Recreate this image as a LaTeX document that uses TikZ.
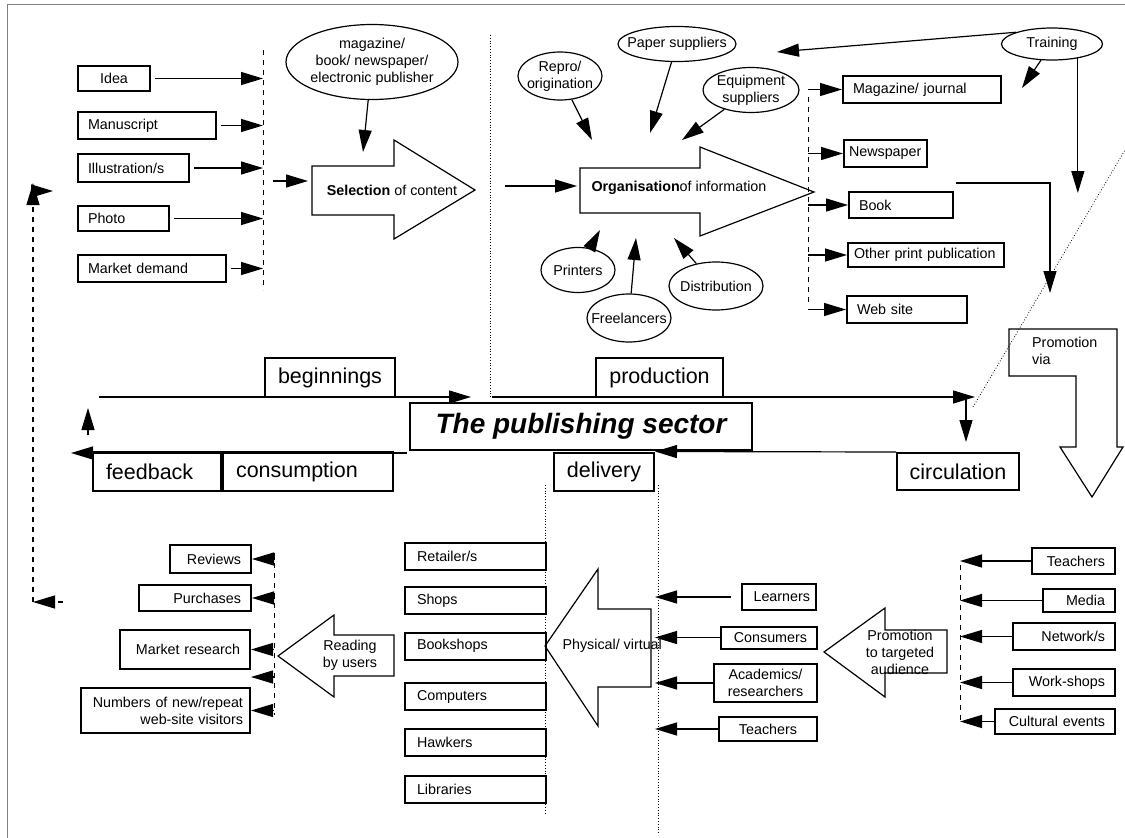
\documentclass[tikz,border=0pt]{standalone}
\usepackage{fontspec}
\setmainfont{Liberation Sans}
\usetikzlibrary{arrows.meta,shapes.geometric}
\newcommand\txtS{\fontsize{14.3}{17}\selectfont}
\newcommand\txtL{\fontsize{21.5}{24}\selectfont}
\newcommand\txtXL{\fontsize{28}{32}\selectfont\bfseries\itshape}

\begin{document}
\begin{tikzpicture}[x=1pt,y=-1pt]
	\tikzstyle{es} = [-{Triangle[length=22pt,width=13pt]}, line width=1.2pt]
	\tikzstyle{sbox} = [draw, line width=2pt, font=\txtS, inner xsep=10pt, inner ysep=0pt, align=left]
	\tikzstyle{lbox} = [draw, line width=2pt, font=\txtL, inner xsep=8pt, inner ysep=0pt]
	\tikzstyle{oval} = [draw, ellipse, line width=1.2pt, font=\txtS, inner xsep=-14pt, inner ysep=-6pt, align=center]
	\tikzstyle{blk} = [draw, line width=1.2pt]
	\tikzstyle{bus} = [dash pattern=on 5pt off 5pt, line width=0.8pt]
	\tikzstyle{dotl} = [dotted, line width=0.8pt]
	\useasboundingbox (0,0) rectangle (1125,838);
	\draw[gray, line width=0.8pt] (7,838) -- (7,4) -- (1125,4);
	% beginnings: sources
	\node[sbox, anchor=west, text width=52pt, align=center, minimum height=25pt] (idea) at (77,78.5) {Idea};
	\node[sbox, anchor=west, text width=118pt, minimum height=27pt] (manu) at (77,125.5) {Manuscript};
	\node[sbox, anchor=west, text width=91pt, minimum height=28pt] (illus) at (77,168) {Illustration/s};
	\node[sbox, anchor=west, text width=71pt, minimum height=25pt] (photo) at (77,218.5) {Photo};
	\node[sbox, anchor=west, text width=128pt, minimum height=27pt] (demand) at (77,268.5) {Market demand};
	\coordinate (inT) at (263,50);
	\coordinate (inB) at (263,290);
	\draw[bus] (inT) -- (inB);
	\draw[es, shorten <=4pt] (idea.east) -- (idea.east -| inT);
	\draw[es, shorten <=4pt] (manu.east) -- (manu.east -| inT);
	\draw[es, shorten <=4pt] (illus.east) -- (illus.east -| inT);
	\draw[es, shorten <=4pt] (photo.east) -- (photo.east -| inT);
	\draw[es, shorten <=4pt] (demand.east) -- (demand.east -| inT);
	% selection
	\draw[blk] (312,166) -- (394,166) -- (394,140) -- (475,190) -- (394,239) -- (394,215) -- (312,215) -- cycle;
	\node[font=\txtS] (sel) at (392,190) {\textbf{Selection} of content};
	\coordinate (selFrom) at (273,181);
	\coordinate (selIn) at (308,181);
	\draw[es] (selFrom) -- (selIn);
	\node[oval, minimum width=172pt, minimum height=75pt] (publisher) at (372,62) {magazine/\\book/ newspaper/\\electronic publisher};
	\coordinate (selTop) at (363,152);
	\draw[es] (publisher) -- (selTop);
	\draw[dotl] (490,35) -- (490,397);
	% organisation
	\draw[blk] (580,168) -- (700,168) -- (700,147) -- (814,192) -- (700,236) -- (700,213) -- (580,213) -- cycle;
	\node[font=\txtS, anchor=west] (org) at (588,188) {\textbf{Organisation}of information};
	\coordinate (orgFrom) at (505,186);
	\coordinate (orgIn) at (577,186);
	\draw[es] (orgFrom) -- (orgIn);
	\node[oval, minimum width=84pt, minimum height=48pt] (repro) at (560,76) {Repro/\\origination};
	\node[oval, minimum width=118pt, minimum height=35pt] (paper) at (677,44) {Paper suppliers};
	\node[oval, minimum width=96pt, minimum height=45pt] (equip) at (751,90) {Equipment\\suppliers};
	\node[oval, minimum width=74pt, minimum height=45pt] (printers) at (578,270) {Printers};
	\node[oval, minimum width=84pt, minimum height=48pt] (freel) at (629,318) {Freelancers};
	\node[oval, minimum width=94pt, minimum height=48pt] (distrib) at (716,286) {Distribution};
	\node[oval, minimum width=101pt, minimum height=32pt] (training) at (1052,44) {Training};
	\coordinate (orgRepro) at (592,140);
	\coordinate (orgPaper) at (650,133);
	\coordinate (orgEquip) at (682,140);
	\coordinate (orgPrint) at (600,230);
	\coordinate (orgFree) at (636,238);
	\coordinate (orgDist) at (674,238);
	\draw[es] (repro) -- (orgRepro);
	\draw[es] (paper) -- (orgPaper);
	\draw[es] (equip) -- (orgEquip);
	\draw[es] (printers) -- (orgPrint);
	\draw[es] (freel) -- (orgFree);
	\draw[es] (distrib) -- (orgDist);
	\coordinate (trainL) at (777,52);
	\coordinate (trainM) at (1022,88);
	\coordinate (trainD) at (1077,193);
	\draw[es] (training.north west) -- (trainL);
	\draw[es] (training) -- (trainM);
	\draw[es] (training.-29) -- (training.-29 |- trainD);
	% products
	\node[sbox, anchor=west, text width=138pt, minimum height=27pt] (mag) at (842,89.5) {Magazine/ journal};
	\node[sbox, anchor=west, inner xsep=5pt, text width=73pt, minimum height=27pt] (news) at (843,153.5) {Newspaper};
	\node[sbox, anchor=west, text width=84pt, minimum height=26pt] (book) at (848,205) {Book};
	\node[sbox, anchor=west, inner xsep=6pt, text width=144pt, minimum height=24pt] (other) at (847,255) {Other print publication};
	\node[sbox, anchor=west, text width=100pt, minimum height=27pt] (web) at (846,309.5) {Web site};
	\coordinate (outT) at (808,97);
	\coordinate (outB) at (808,303);
	\draw[bus] (outT) -- (outB);
	\draw[es] (outT |- mag.west) -- (mag.west);
	\draw[es] (outT |- news.west) -- (news.west);
	\draw[es] (outT |- book.west) -- (book.west);
	\draw[es] (outT |- other.west) -- (other.west);
	\draw[es] (outT |- web.west) -- (web.west);
	\coordinate (bookOut) at (956,183);
	\coordinate (promIn) at (1050,293);
	\draw[es] (bookOut) -| (promIn);
	\coordinate (diagA) at (973,407);
	\coordinate (diagB) at (1125,150);
	\draw[dotl] (diagA) -- (diagB);
	% promotion via
	\draw[blk] (1009,329) -- (1117,329) -- (1117,447) -- (1123,447) -- (1092,497) -- (1060,447) -- (1076,447) -- (1076,376) -- (1009,376) -- cycle;
	\node[font=\txtS, align=left, anchor=north west, inner sep=0pt] (promVia) at (1032,337) {Promotion\\via};
	% the cycle
	\node[lbox, minimum width=130pt, minimum height=39pt] (begin) at (330,377.5) {beginnings};
	\node[lbox, minimum width=127pt, minimum height=39pt] (prod) at (659.5,377.5) {production};
	\node[draw, line width=2pt, minimum width=342pt, minimum height=47pt, font=\txtXL] (sector) at (581,426.5) {The publishing sector};
	\node[lbox, minimum width=122pt, minimum height=37pt] (circ) at (958,471.5) {circulation};
	\node[lbox, minimum width=100pt, minimum height=38pt] (deliv) at (604,471.5) {delivery};
	\node[lbox, anchor=west, inner xsep=13pt, text width=102pt, align=left, minimum height=39pt] (feedback) at (92,471.5) {feedback};
	\node[lbox, anchor=west, inner xsep=13pt, text width=144pt, align=left, minimum height=39pt] (consum) at (222,471.5) {consumption};
	\coordinate (begFrom) at (99,397);
	\coordinate (begTo) at (471,397);
	\coordinate (prodFrom) at (492,397);
	\coordinate (circTurn) at (975,397);
	\coordinate (circDrop) at (966,397);
	\coordinate (circAbove) at (966,442);
	\coordinate (consFrom) at (407,453);
	\coordinate (fbTip) at (71,453);
	\coordinate (upFrom) at (88,435);
	\coordinate (upTo) at (88,408);
	\draw[es] (begFrom) -- (begTo);
	\draw[es] (prodFrom) -- (circTurn);
	\draw[es] (circDrop) -- (circAbove);
	\draw[es] (circ.north west) -- (deliv.north east);
	\draw[es] (consFrom) -- (fbTip);
	\draw[es] (upFrom) -- (upTo);
	% feedback loop
	\coordinate (fbStart) at (63,602);
	\coordinate (fbCorner) at (33,602);
	\coordinate (fbTop) at (33,183);
	\coordinate (fbR1) at (31,191);
	\coordinate (fbR2) at (53,191);
	\draw[bus, es] (fbStart) -- (fbCorner);
	\draw[bus, es] (fbCorner) -- (fbTop);
	\draw[es] (fbR1) -- (fbR2);
	% consumption
	\draw[blk] (278,656) -- (334,615) -- (334,635) -- (394,635) -- (394,676) -- (334,676) -- (334,697) -- cycle;
	\node[font=\txtS, align=center] (reading) at (350,655) {Reading\\by users};
	\node[sbox, anchor=east, align=right, text width=61pt, minimum height=28pt] (reviews) at (252,559) {Reviews};
	\node[sbox, anchor=east, align=right, text width=92pt, minimum height=26pt] (purch) at (252,598) {Purchases};
	\node[sbox, anchor=east, align=right, text width=110pt, minimum height=39pt] (mres) at (251,649.5) {Market research};
	\node[sbox, anchor=east, align=right, inner xsep=7pt, text width=155pt, minimum height=45pt] (visitors) at (251,710.5) {Numbers of new/repeat\\web-site visitors};
	\coordinate (conT) at (274,553);
	\coordinate (conB) at (274,715);
	\coordinate (noBox) at (251,677);
	\draw[bus] (conT) -- (conB);
	\draw[es] (conT |- reviews.east) -- (reviews.east);
	\draw[es] (conT |- purch.east) -- (purch.east);
	\draw[es] (conT |- mres.east) -- (mres.east);
	\draw[es] (conT |- noBox) -- (noBox);
	\draw[es] (conT |- visitors.east) -- (visitors.east);
	% delivery
	\node[sbox, anchor=west, inner xsep=12pt, text width=117pt, minimum height=27pt] (retail) at (404,556.5) {Retailer/s};
	\node[sbox, anchor=west, inner xsep=12pt, text width=117pt, minimum height=27pt] (shops) at (404,600.5) {Shops};
	\node[sbox, anchor=west, inner xsep=12pt, text width=117pt, minimum height=27pt] (bookshops) at (404,646) {Bookshops};
	\node[sbox, anchor=west, inner xsep=12pt, text width=117pt, minimum height=27pt] (computers) at (404,696.5) {Computers};
	\node[sbox, anchor=west, inner xsep=12pt, text width=117pt, minimum height=27pt] (hawkers) at (404,742.5) {Hawkers};
	\node[sbox, anchor=west, inner xsep=12pt, text width=117pt, minimum height=27pt] (libraries) at (404,789.5) {Libraries};
	\coordinate (dl1) at (545,485);
	\coordinate (dl1b) at (545,815);
	\coordinate (dl2) at (658,485);
	\coordinate (dl2b) at (658,835);
	\draw[dotl] (dl1) -- (dl1b);
	\draw[dotl] (dl2) -- (dl2b);
	\draw[blk] (545,646) -- (598,569) -- (598,609) -- (651,609) -- (651,687) -- (598,687) -- (598,726) -- cycle;
	\node[font=\txtS, anchor=west] (phys) at (559,646) {Physical/ virtual};
	\node[sbox, anchor=east, align=right, inner xsep=6pt, text width=62pt, minimum height=26pt] (learners) at (817,597) {Learners};
	\node[sbox, anchor=east, align=right, text width=76pt, minimum height=22pt] (consumers) at (818,637.5) {Consumers};
	\node[sbox, anchor=east, align=center, text width=83pt, minimum height=38pt] (academics) at (818,683) {Academics/\\researchers};
	\node[sbox, anchor=east, align=center, text width=78pt, minimum height=24pt] (teachB) at (818,729) {Teachers};
	\draw[es, shorten <=10pt, shorten >=-3pt] (learners.west) -- (learners.west -| dl2);
	\draw[es, shorten >=-3pt] (consumers.west) -- (consumers.west -| dl2);
	\draw[es, shorten >=-3pt] (academics.west) -- (academics.west -| dl2);
	\draw[es, shorten >=-3pt] (teachB.west) -- (teachB.west -| dl2);
	% circulation
	\draw[blk] (824,652) -- (885,608) -- (885,630) -- (947,630) -- (947,673) -- (885,673) -- (885,697) -- cycle;
	\node[font=\txtS, align=center] (target) at (900,652) {Promotion\\to targeted\\audience};
	\node[sbox, anchor=east, align=right, text width=63pt, minimum height=26pt] (teachA) at (1116,561) {Teachers};
	\node[sbox, anchor=east, align=right, text width=52pt, minimum height=23pt] (media) at (1116,600.5) {Media};
	\node[sbox, anchor=east, align=right, text width=82pt, minimum height=27pt] (network) at (1116,636.5) {Network/s};
	\node[sbox, anchor=east, align=right, text width=82pt, minimum height=27pt] (workshops) at (1116,682.5) {Work-shops};
	\node[sbox, anchor=east, align=right, text width=100pt, minimum height=25pt] (cultural) at (1116,721.5) {Cultural events};
	\coordinate (rbT) at (960,565);
	\coordinate (rbB) at (960,722);
	\draw[bus] (rbT) -- (rbB);
	\draw[es] (teachA.west) -- (teachA.west -| rbT);
	\draw[es] (media.west) -- (media.west -| rbT);
	\draw[es] (network.west) -- (network.west -| rbT);
	\draw[es] (workshops.west) -- (workshops.west -| rbT);
	\draw[es] (cultural.west) -- (cultural.west -| rbT);
\end{tikzpicture}
\end{document}
